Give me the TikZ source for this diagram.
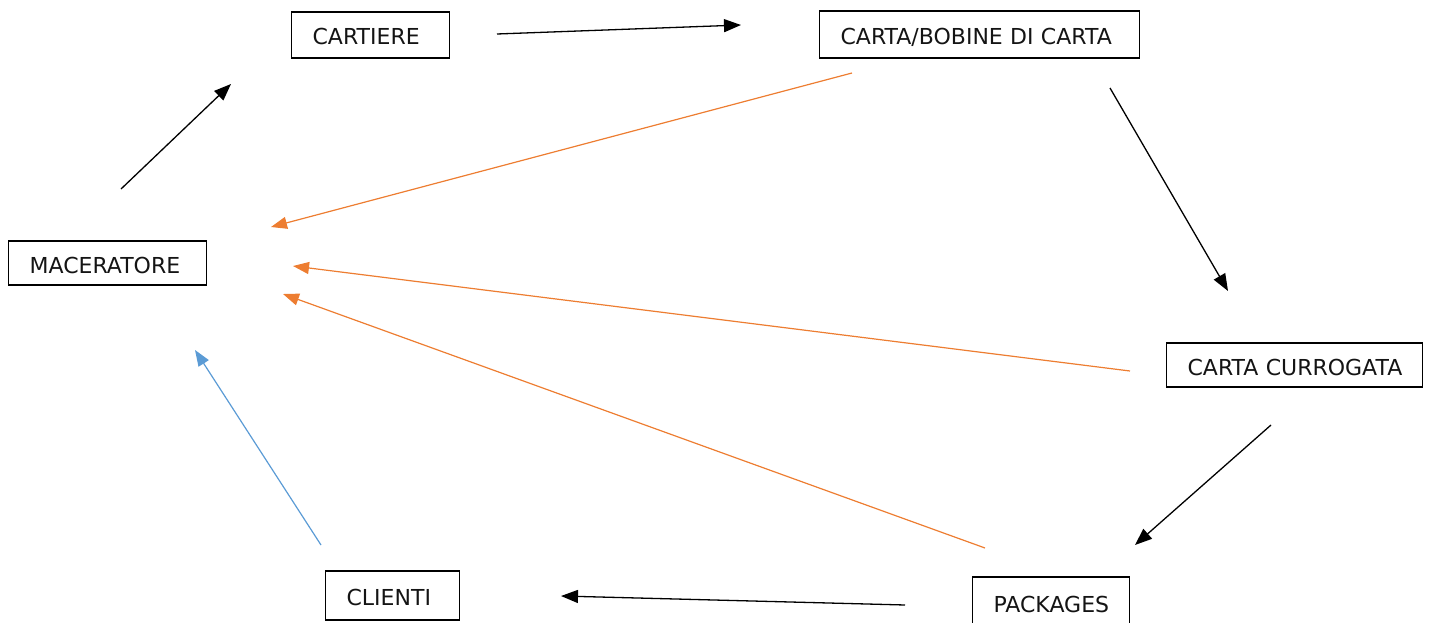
\documentclass[tikz,border=0pt]{standalone}
\usepackage{fontspec}
\setmainfont{DejaVu Sans}
\usetikzlibrary{arrows.meta}
\definecolor{orangearr}{HTML}{ED7D31}
\definecolor{bluearr}{HTML}{5B9BD5}
\tikzset{
  boxnode/.style={draw=black, line width=1.2pt, anchor=west, inner xsep=21pt, inner ysep=0pt,
    align=left, font=\fontsize{22}{26}\selectfont, text=black!92, text height=20pt, text depth=0pt},
  blackarr/.style={draw=black, line width=1.3pt, -{Triangle[length=17pt,width=13pt]}},
  orangeline/.style={draw=orangearr, line width=1.2pt, -{Triangle[length=16pt,width=12pt]}},
  blueline/.style={draw=bluearr, line width=1.2pt, -{Triangle[length=16pt,width=12pt]}}
}
\begin{document}
\begin{tikzpicture}[x=1pt,y=-1pt]
\useasboundingbox (0,0) rectangle (1430,623);
% boxes
\node[boxnode, text width=116pt, minimum height=46pt] (cartiere) at (291,35) {\mbox{CARTIERE}};
\node[boxnode, text width=278pt, minimum height=47pt] (carta) at (819,34.5) {\mbox{CARTA/BOBINE DI CARTA}};
\node[boxnode, text width=156pt, minimum height=44pt] (macer) at (8,263) {\mbox{MACERATORE}};
\node[boxnode, text width=214pt, minimum height=44pt] (curro) at (1166,365) {\mbox{CARTA CURROGATA}};
\node[boxnode, text width=92pt, minimum height=49pt] (clienti) at (325,595.5) {\mbox{CLIENTI}};
\node[boxnode, text width=115pt, minimum height=50pt] (pack) at (972,602) {\mbox{PACKAGES}};
% connector ends
\coordinate (a1s) at (121,189); \coordinate (a1e) at (231,84);
\coordinate (a2s) at (497,34);  \coordinate (a2e) at (741,25);
\coordinate (a3s) at (1110,88); \coordinate (a3e) at (1228,291);
\coordinate (a4s) at (1271,425); \coordinate (a4e) at (1135,545);
\coordinate (a5s) at (905,605); \coordinate (a5e) at (561,596);
\coordinate (o1s) at (852,73);  \coordinate (o1e) at (271,227);
\coordinate (o2s) at (1130,371); \coordinate (o2e) at (293,266);
\coordinate (o3s) at (985,548); \coordinate (o3e) at (283,294);
\coordinate (b1s) at (321,545); \coordinate (b1e) at (195,350);
% arrows
\draw[blackarr] (a1s) -- (a1e);
\draw[blackarr] (a2s) -- (a2e);
\draw[blackarr] (a3s) -- (a3e);
\draw[blackarr] (a4s) -- (a4e);
\draw[blackarr] (a5s) -- (a5e);
\draw[orangeline] (o1s) -- (o1e);
\draw[orangeline] (o2s) -- (o2e);
\draw[orangeline] (o3s) -- (o3e);
\draw[blueline] (b1s) -- (b1e);
\end{tikzpicture}
\end{document}
